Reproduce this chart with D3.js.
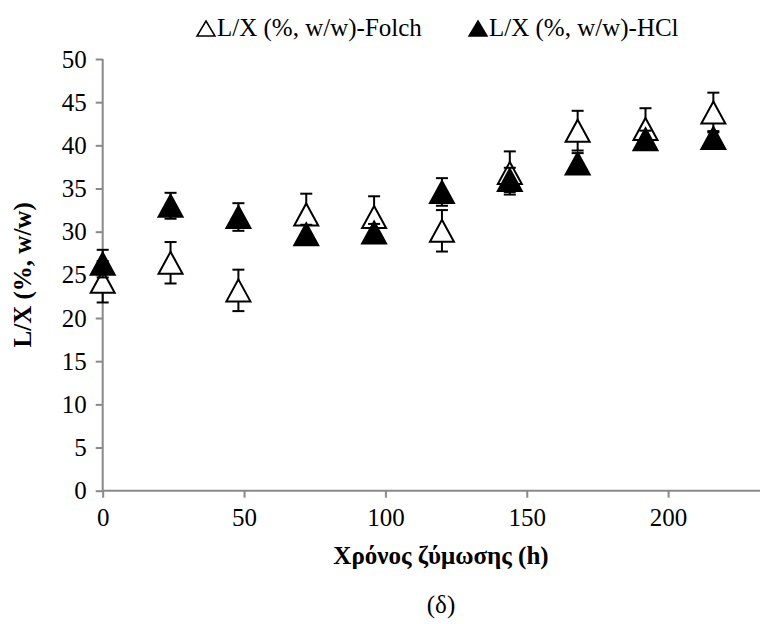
<!DOCTYPE html>
<html>
<head>
<meta charset="utf-8">
<script src="https://cdn.jsdelivr.net/npm/d3@7"></script>
<style>
  html, body { margin: 0; padding: 0; background: #fff; }
  svg { display: block; }
  text { font-family: "Liberation Serif", "DejaVu Serif", "Times New Roman", serif; fill: #000; }
</style>
</head>
<body>
<script>
// ---- Data ----
const times = [0, 24, 48, 72, 96, 120, 144, 168, 192, 216];
const folch = [24.2, 26.4, 23.2, 32.0, 31.7, 30.1, 36.8, 41.7, 41.9, 43.8];
const folchErr = [2.4, 2.4, 2.4, 2.4, 2.4, 2.4, 2.5, 2.3, 2.4, 2.3];
const hcl = [26.3, 33.0, 31.7, 29.7, 29.9, 34.6, 36.0, 37.9, 40.7, 40.85];
const hclErr = [1.6, 1.5, 1.6, 1.1, 1.0, 1.6, 1.4, 1.2, 1.0, 0.8];
const xTicks = [0, 50, 100, 150, 200];
const yTicks = [0, 5, 10, 15, 20, 25, 30, 35, 40, 45, 50];
const seriesNames = ["L/X (%, w/w)-Folch", "L/X (%, w/w)-HCl"];
const xTitle = "Χρόνος ζύμωσης (h)";
const yTitle = "L/X (%, w/w)";
const caption = "(δ)";

const W = 772, H = 624;
const svg = d3.select("body").append("svg").attr("width", W).attr("height", H);

const x = d3.scaleLinear().domain([0, 232.5]).range([102.7, 760]);
const y = d3.scaleLinear().domain([0, 50]).range([490.7, 59]);
const axisColor = "#898989";
const fs = 25;
const fam = "Liberation Serif, DejaVu Serif, serif";

// Y axis
const yAxis = svg.append("g").attr("transform", `translate(${x(0)},0)`)
  .call(d3.axisLeft(y).tickValues(yTicks).tickSize(7).tickPadding(9).tickFormat(d3.format("d")));
yAxis.select(".domain").attr("stroke", axisColor).attr("stroke-width", 2).attr("d", `M0,${y(50)}V${y(0)}`);
yAxis.selectAll(".tick line").attr("stroke", axisColor).attr("stroke-width", 2);
yAxis.selectAll(".tick text").attr("font-size", fs).attr("font-family", fam).attr("fill", "#000");

// X axis
const xAxis = svg.append("g").attr("transform", `translate(0,${y(0)})`)
  .call(d3.axisBottom(x).tickValues(xTicks).tickSize(7).tickPadding(11).tickFormat(d3.format("d")));
xAxis.select(".domain").attr("stroke", axisColor).attr("stroke-width", 2).attr("d", `M${x(0)},0H${x(232.5)}`);
xAxis.selectAll(".tick line").attr("stroke", axisColor).attr("stroke-width", 2);
xAxis.selectAll(".tick text").attr("font-size", fs).attr("font-family", fam).attr("fill", "#000");

// Titles
svg.append("text").attr("x", 441).attr("y", 564).attr("text-anchor", "middle")
  .attr("font-size", fs).attr("font-weight", "bold").text(xTitle);
svg.append("text").attr("transform", `translate(31,${(y(0) + y(50)) / 2}) rotate(-90)`)
  .attr("text-anchor", "middle").attr("font-size", fs).attr("font-weight", "bold").text(yTitle);
svg.append("text").attr("x", 441).attr("y", 613).attr("text-anchor", "middle")
  .attr("font-size", fs).text(caption);

// Markers
const tri = "M0,-11L12,11L-12,11Z";
const capW = 6;

function drawSeries(vals, errs, filled) {
  const g = svg.append("g");
  const data = times.map((t, i) => ({ t, v: vals[i], e: errs[i] }));
  const eb = g.append("g").selectAll("g").data(data).join("g");
  eb.append("line").attr("x1", d => x(d.t)).attr("x2", d => x(d.t))
    .attr("y1", d => y(d.v - d.e)).attr("y2", d => y(d.v + d.e))
    .attr("stroke", "#000").attr("stroke-width", 2);
  eb.append("line").attr("x1", d => x(d.t) - capW).attr("x2", d => x(d.t) + capW)
    .attr("y1", d => y(d.v + d.e)).attr("y2", d => y(d.v + d.e))
    .attr("stroke", "#000").attr("stroke-width", 2);
  eb.append("line").attr("x1", d => x(d.t) - capW).attr("x2", d => x(d.t) + capW)
    .attr("y1", d => y(d.v - d.e)).attr("y2", d => y(d.v - d.e))
    .attr("stroke", "#000").attr("stroke-width", 2);
  g.append("g").selectAll("path").data(data).join("path")
    .attr("d", tri)
    .attr("transform", d => `translate(${x(d.t)},${y(d.v)})`)
    .attr("fill", filled ? "#000" : "#fff")
    .attr("stroke", "#000").attr("stroke-width", 2).attr("stroke-linejoin", "miter");
}
drawSeries(folch, folchErr, false);
drawSeries(hcl, hclErr, true);

// Legend
const legend = [
  { name: seriesNames[0], filled: false, x: 196 },
  { name: seriesNames[1], filled: true, x: 468 }
];
const lg = svg.append("g").selectAll("g").data(legend).join("g")
  .attr("transform", d => `translate(${d.x},0)`);
lg.append("path").attr("d", "M10,21L19,36L1,36Z")
  .attr("fill", d => d.filled ? "#000" : "none")
  .attr("stroke", "#000").attr("stroke-width", 1.5);
lg.append("text").attr("x", 21).attr("y", 36).attr("font-size", fs).text(d => d.name);
</script>
</body>
</html>
